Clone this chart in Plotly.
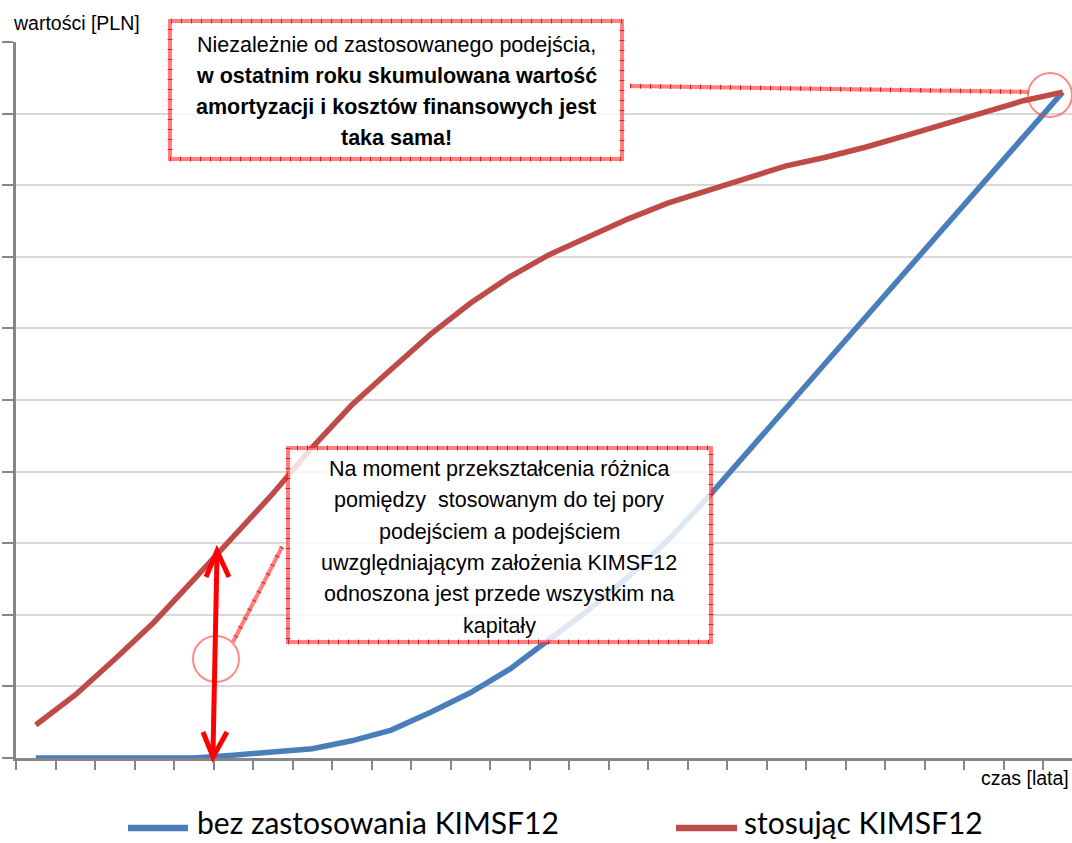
import plotly.graph_objects as go

# ---- data ----
lata = list(range(1, 28))
bez_kimsf12 = [0.0, 0.0, 0.0, 0.0, 0.0, 0.04, 0.08, 0.13, 0.24, 0.39, 0.64, 0.91, 1.24, 1.65,
               2.07, 2.53, 3.04, 3.63, 4.26, 4.89, 5.53, 6.16, 6.79, 7.42, 8.04, 8.67, 9.30]
stosujac_kimsf12 = [0.46, 0.88, 1.38, 1.90, 2.49, 3.09, 3.69, 4.34, 4.93, 5.43, 5.92, 6.35, 6.72,
                    7.03, 7.28, 7.53, 7.75, 7.93, 8.10, 8.27, 8.39, 8.53, 8.69, 8.85, 9.02, 9.18, 9.30]
series_names = ["bez zastosowania KIMSF12", "stosując KIMSF12"]
series_colors = ["#4A7EBB", "#BE4B48"]

y_label = "wartości [PLN]"
x_label = "czas [lata]"
box1_lines = ["Niezależnie od zastosowanego podejścia,",
              "<b>w ostatnim roku skumulowana wartość</b>",
              "<b>amortyzacji i kosztów finansowych jest</b>",
              "<b>taka sama!</b>"]
box2_lines = ["Na moment przekształcenia różnica",
              "pomiędzy  stosowanym do tej pory",
              "podejściem a podejściem",
              "uwzględniającym założenia KIMSF12",
              "odnoszona jest przede wszystkim na",
              "kapitały"]

# ---- geometry helpers (pixel -> paper) ----
FW, FH = 1072, 843
L, R, T, B = 16, 1072, 42, 758


def px(x):
    return (x - L) / (R - L)


def py(y):
    return (B - y) / (B - T)


fig = go.Figure()
for vals, name, col in zip([bez_kimsf12, stosujac_kimsf12], series_names, series_colors):
    fig.add_trace(go.Scatter(x=lata, y=vals, mode="lines", name=name,
                             line=dict(color=col, width=5.5), showlegend=False,
                             hoverinfo="x+y+name"))

step = 39.5
xr0 = 0.5
xr1 = xr0 + (R - L) / step

axis_col = "#868686"
fig.update_layout(
    width=FW, height=FH,
    margin=dict(l=L, r=FW - R, t=T, b=FH - B),
    paper_bgcolor="white", plot_bgcolor="white",
    font=dict(family="Liberation Sans, Arial, sans-serif", color="black"),
    xaxis=dict(range=[xr0, xr1], tickmode="linear", tick0=0.5, dtick=1,
               showticklabels=False, ticks="outside", ticklen=9, tickwidth=2,
               tickcolor=axis_col, showline=True, linecolor=axis_col, linewidth=2.5,
               showgrid=False, zeroline=False),
    yaxis=dict(range=[0, 10], tickmode="linear", tick0=0, dtick=1,
               showticklabels=False, ticks="outside", ticklen=11, tickwidth=2,
               tickcolor=axis_col, showline=True, linecolor=axis_col, linewidth=2.5,
               showgrid=True, gridcolor="#D9D9D9", gridwidth=1.5, zeroline=False),
)

shapes = []
annots = []

border_col = "rgba(255,40,40,0.6)"
tick_col = "rgba(230,0,0,0.8)"


def hatched_rect(x0, y0, x1, y1):
    shapes.append(dict(type="rect", xref="paper", yref="paper",
                       x0=px(x0), x1=px(x1), y0=py(y1), y1=py(y0),
                       fillcolor="rgba(255,255,255,0.82)",
                       line=dict(color=border_col, width=4), layer="above"))
    shapes.append(dict(type="rect", xref="paper", yref="paper",
                       x0=px(x0), x1=px(x1), y0=py(y1), y1=py(y0),
                       fillcolor="rgba(0,0,0,0)",
                       line=dict(color=tick_col, width=5, dash="1px,9px"), layer="above"))


def hatched_line(x0, y0, x1, y1):
    shapes.append(dict(type="line", xref="paper", yref="paper",
                       x0=px(x0), x1=px(x1), y0=py(y0), y1=py(y1),
                       line=dict(color=border_col, width=4), layer="above"))
    shapes.append(dict(type="line", xref="paper", yref="paper",
                       x0=px(x0), x1=px(x1), y0=py(y0), y1=py(y1),
                       line=dict(color=tick_col, width=5, dash="1px,9px"), layer="above"))


def circle(cx, cy, r):
    shapes.append(dict(type="circle", xref="paper", yref="paper",
                       x0=px(cx - r), x1=px(cx + r), y0=py(cy + r), y1=py(cy - r),
                       line=dict(color="rgba(255,60,60,0.6)", width=2), layer="above"))


# top callout
hatched_line(630, 86, 1029, 92)
circle(1050, 95, 22)
hatched_rect(170, 21, 622, 159)
# bottom callout
hatched_line(282, 547, 233, 642)
circle(216, 659, 23)
hatched_rect(288, 448, 711, 642)

# red double arrow
red = "#FF0000"
shapes.append(dict(type="line", xref="paper", yref="paper",
                   x0=px(217), y0=py(556), x1=px(213), y1=py(752),
                   line=dict(color=red, width=5), layer="above"))
for pts in [[(206, 577), (217, 551), (229, 577)], [(203, 732), (213, 757), (227, 732)]]:
    path = "M{},{} L{},{} L{},{}".format(px(pts[0][0]), py(pts[0][1]), px(pts[1][0]), py(pts[1][1]),
                                          px(pts[2][0]), py(pts[2][1]))
    shapes.append(dict(type="path", xref="paper", yref="paper", path=path,
                       line=dict(color=red, width=5), layer="above"))

# box texts
for i, t in enumerate(box1_lines):
    annots.append(dict(xref="paper", yref="paper", x=px(396), y=py(45 + 31 * i),
                       text=t, showarrow=False, xanchor="center", yanchor="middle",
                       font=dict(size=21.5, family="Liberation Sans, Arial", color="black")))
for i, t in enumerate(box2_lines):
    annots.append(dict(xref="paper", yref="paper", x=px(499), y=py(469 + 31.3 * i),
                       text=t, showarrow=False, xanchor="center", yanchor="middle",
                       font=dict(size=21.5, family="Liberation Sans, Arial", color="black")))

# axis titles
annots.append(dict(xref="paper", yref="paper", x=px(11), y=py(23), text=y_label,
                   showarrow=False, xanchor="left", yanchor="middle",
                   font=dict(size=19.5, family="Liberation Sans, Arial", color="black")))
annots.append(dict(xref="paper", yref="paper", x=px(1071), y=py(778), text=x_label,
                   showarrow=False, xanchor="right", yanchor="middle",
                   font=dict(size=19.5, family="Liberation Sans, Arial", color="black")))

# legend (manual)
leg = [(128, 188, 195), (676, 737, 742)]
for (x0, x1, xt), name, col in zip(leg, series_names, series_colors):
    shapes.append(dict(type="line", xref="paper", yref="paper",
                       x0=px(x0), x1=px(x1), y0=py(828), y1=py(828),
                       line=dict(color=col, width=6.5)))
    annots.append(dict(xref="paper", yref="paper", x=px(xt), y=py(822), text=name,
                       showarrow=False, xanchor="left", yanchor="middle",
                       font=dict(size=30, family="Lato, Carlito, Calibri, sans-serif", color="black")))

fig.update_layout(shapes=shapes, annotations=annots)
fig.write_html("out.html", config={"displayModeBar": False},
               post_script="document.body.style.margin='0px';document.body.style.overflow='hidden';")
